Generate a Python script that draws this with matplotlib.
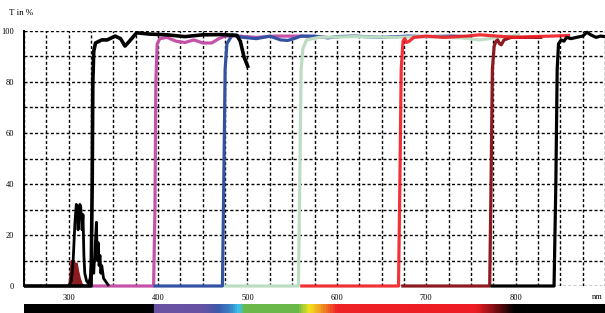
import numpy as np
import matplotlib
matplotlib.use("Agg")
import matplotlib.pyplot as plt
from matplotlib.colors import LinearSegmentedColormap

plt.rcParams["font.family"] = ["Liberation Serif", "DejaVu Serif"]

# --- transmission curves (wavelength nm, T %) ---
black_lp_nm = [250, 325, 326.3, 327, 328, 330, 333, 337, 343, 352, 358, 363, 368, 376, 390, 410, 430, 450, 470, 488, 492, 496, 501]
black_lp_t  = [0, 0, 40, 80, 92, 95.3, 95.8, 96.5, 96.5, 98, 97, 94.1, 96, 99.3, 98.8, 98.5, 97.8, 98.5, 98.6, 98.3, 96, 90, 85.5]

uv_spike_nm = [300, 303, 305, 307, 308.5, 309.5, 310.5, 311.5, 312.5, 313.5, 315, 316, 317, 318, 320, 322, 324, 326, 328, 330, 331, 332, 333, 334, 335, 336, 337, 339, 341, 343, 345]
uv_spike_t  = [0, 2, 10, 25, 32, 31, 22, 28, 32, 31, 22, 28, 12, 5, 2, 1, 3, 10, 5, 18, 25, 10, 17, 8, 12, 5, 8, 3, 2, 1, 0]

maroon_uv_nm = [300, 301.5, 302.5, 304, 305.5, 307, 308.5, 310, 312, 314, 316]
maroon_uv_t  = [0, 5, 10, 9, 10, 8, 9, 6, 3, 1, 0]

magenta_nm = [326, 395, 396.5, 397.5, 399, 402, 410, 420, 430, 440, 450, 460, 468, 475, 490, 510, 530, 560, 590]
magenta_t  = [0, 0, 30, 80, 95, 97, 97.5, 96, 95.5, 96.5, 95.3, 95.3, 97, 98, 98, 97.5, 98, 98, 97.5]

blue_nm = [395, 472, 473.5, 475, 477, 483, 495, 510, 525, 537, 545, 552, 560, 575, 590, 600, 620, 650, 680, 700, 730, 750]
blue_t  = [0, 0, 40, 85, 95, 98.5, 97.5, 97, 98, 96.5, 96.3, 97, 98, 98, 97.3, 97.8, 98, 97.5, 98, 97.8, 98, 97.7]

green_nm = [474, 557, 558.5, 560, 562, 566, 580, 620, 660, 700, 740, 760, 780, 800, 805]
green_t  = [0, 0, 40, 85, 93, 96.5, 97.5, 97.8, 97.5, 97.8, 97.3, 96.5, 97.5, 98.3, 98.5]

red_nm = [559, 669, 670.5, 672, 674, 676, 678, 681, 686, 700, 720, 745, 760, 780, 800, 820, 840, 855, 861]
red_t  = [0, 0, 40, 85, 96, 97, 95.5, 96, 97.5, 98, 97.5, 98, 98.5, 98, 97.5, 97.8, 98, 98.2, 98.3]

maroon_nm = [672, 771, 772.5, 774, 776, 778, 780, 782, 784, 787, 795, 810, 830]
maroon_t  = [0, 0, 40, 85, 94, 96, 96.5, 95, 94.6, 96.5, 97.5, 97.5, 97.5]

black_ir_nm = [772, 843, 845, 846.5, 848, 851, 854, 857, 862, 868, 875, 880, 884, 890, 895, 900]
black_ir_t  = [0, 0, 40, 85, 95, 96.5, 96, 97.5, 97, 97.5, 98, 99.5, 98.5, 97.5, 98, 97.8]

# spectrum strip under the axis
spec_nm  = [250, 394, 395, 450, 466, 481, 490, 497, 556, 569, 585, 600, 757, 800, 900]
spec_col = ["#000000", "#000000", "#6b52a2", "#6652a4", "#3d58a8", "#3a86c8", "#3cc2ea",
            "#6ab84a", "#6ab84a", "#f2e41e", "#f08a22", "#ee2226", "#ee1c24", "#000000", "#000000"]

fig = plt.figure(figsize=(6.05, 3.13), dpi=100)
ax = fig.add_axes([24/605, 27/313, 581/605, 255/313])
cax = fig.add_axes([24/605, 0, 581/605, 9/313])

lw = 2.3
kw = dict(solid_capstyle="butt", clip_on=False)
ax.plot(magenta_nm, magenta_t, color="#c352a8", lw=lw, **kw)
ax.plot(blue_nm, blue_t, color="#3452a2", lw=lw, **kw)
ax.plot(green_nm, green_t, color="#bcdcc4", lw=lw, **kw)
ax.plot(maroon_nm, maroon_t, color="#8c1a1e", lw=lw, **kw)
ax.plot(red_nm, red_t, color="#f01c22", lw=lw, alpha=0.9, **kw)
ax.plot(black_ir_nm, black_ir_t, color="black", lw=lw, **kw)
ax.plot(black_lp_nm, black_lp_t, color="black", lw=2.6, **kw)
ax.plot(uv_spike_nm, uv_spike_t, color="black", lw=2.0, **kw)
ax.fill_between(maroon_uv_nm, maroon_uv_t, color="#8c1a1e", lw=1.5, edgecolor="#8c1a1e")

ax.set_xlim(250, 900)
ax.set_ylim(0, 100)
xt = np.arange(250, 901, 25)
ax.set_xticks(xt)
ax.set_xticklabels([str(v) if v % 100 == 0 and 300 <= v <= 800 else "" for v in xt])
yt = np.arange(0, 101, 10)
ax.set_yticks(yt)
ax.set_yticklabels([str(v) if v % 20 == 0 else "" for v in yt])
ax.tick_params(length=0, labelsize=6, pad=7)
ax.tick_params(axis="x", pad=6)
ax.grid(True, color="black", ls=(0, (2.2, 1.6)), lw=1.0)
for s in ["top", "right", "bottom"]:
    ax.spines[s].set_visible(False)
ax.spines["left"].set_linewidth(1.4)
ax.set_axisbelow(True)
fig.text(9/605, 1 - 13/313, "T in %", fontsize=6.5, va="center", ha="left")
fig.text(592/605, 1 - 297/313, "nm", fontsize=6, va="center", ha="left")

cmap = LinearSegmentedColormap.from_list(
    "spec", [((n - 250) / 650, c) for n, c in zip(spec_nm, spec_col)])
cax.imshow(np.linspace(0, 1, 600)[None, :], aspect="auto", cmap=cmap,
           extent=[250, 900, 0, 1])
cax.set_axis_off()

fig.savefig("out.png", dpi=100)
